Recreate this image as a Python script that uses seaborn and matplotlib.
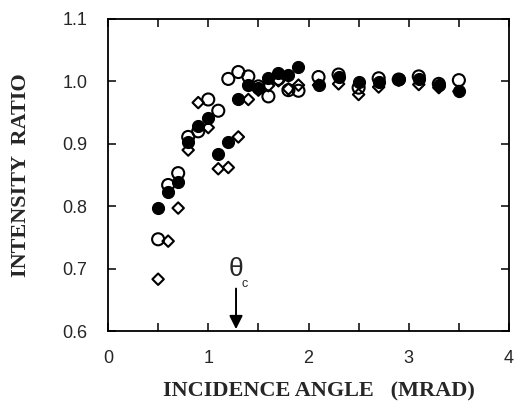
import matplotlib
matplotlib.use("Agg")
import matplotlib.pyplot as plt
import seaborn as sns
import numpy as np
import pandas as pd

# Data
angle = [0.5, 0.6, 0.7, 0.8, 0.9, 1.0, 1.1, 1.2, 1.3, 1.4, 1.5, 1.6, 1.7, 1.8, 1.9,
         2.1, 2.3, 2.5, 2.7, 2.9, 3.1, 3.3, 3.5]
filled_circle = [0.797, 0.822, 0.838, 0.903, 0.929, 0.941, 0.883, 0.903, 0.971, 0.994,
                 0.990, 1.006, 1.013, 1.010, 1.023, 0.995, 1.007, 0.999, 0.999, 1.004,
                 1.004, 0.995, 0.985]
open_circle = [0.747, 0.834, 0.853, 0.911, 0.920, 0.971, 0.953, 1.004, 1.015, 1.008,
               0.992, 0.976, 1.004, 0.986, 0.985, 1.007, 1.011, 0.990, 1.005, 1.003,
               1.008, 0.996, 1.002]
open_diamond = [0.683, 0.744, 0.797, 0.890, 0.966, 0.926, 0.860, 0.862, 0.911, 0.971,
                0.986, 0.993, 1.001, 0.988, 0.994, 0.994, 0.996, 0.979, 0.991, 1.002,
                0.995, 0.990, 0.984]

x_ticks = [0, 1, 2, 3, 4]
y_ticks = [0.6, 0.7, 0.8, 0.9, 1.0, 1.1]

sns.set_style("ticks")
plt.rcParams['font.family'] = ['Liberation Sans', 'DejaVu Sans']

fig = plt.figure(figsize=(5.15, 4.08), dpi=100)
ax = fig.add_axes([108/515, 1 - 331/408, (509 - 108)/515, (331 - 19)/408])

df = pd.DataFrame({"angle": angle, "filled": filled_circle,
                   "open": open_circle, "diamond": open_diamond})

sns.scatterplot(data=df, x="angle", y="filled", ax=ax, marker="o", s=75,
                color="black", edgecolor="black", linewidth=0.8, zorder=3)
sns.scatterplot(data=df, x="angle", y="open", ax=ax, marker="o", s=75,
                facecolor="none", edgecolor="black", linewidth=1.5, zorder=3)
sns.scatterplot(data=df, x="angle", y="diamond", ax=ax, marker="D", s=34,
                facecolor="none", edgecolor="black", linewidth=1.5, zorder=3)

ax.set_xlim(0, 4)
ax.set_ylim(0.6, 1.1)
ax.set_xticks(x_ticks)
ax.set_xticklabels([str(t) for t in x_ticks])
ax.set_xticks(np.arange(0.5, 4, 1.0), minor=True)
ax.set_yticks(y_ticks)
ax.set_yticklabels([f"{t:.1f}" for t in y_ticks])

ax.tick_params(axis="both", which="both", direction="in", top=True, right=True,
               length=6, width=1.1, labelsize=13, color="black")
ax.tick_params(axis="x", pad=14)
ax.tick_params(axis="y", pad=15)
for sp in ax.spines.values():
    sp.set_linewidth(1.3)
    sp.set_color("black")

ax.set_xlabel("INCIDENCE ANGLE   (MRAD)", family="Liberation Serif",
              fontweight="bold", fontsize=16)
ax.set_ylabel("INTENSITY  RATIO", family="Liberation Serif",
              fontweight="bold", fontsize=16)
ax.xaxis.set_label_coords(0.525, -0.163)
ax.yaxis.set_label_coords(-0.192, 0.5)

ax.annotate("", xy=(1.277, 0.603), xytext=(1.277, 0.668),
            arrowprops=dict(arrowstyle="-|>", color="black", lw=1.4,
                            mutation_scale=20, shrinkA=0, shrinkB=0))
ax.text(1.277, 0.700, "\u03b8", ha="center", va="center", fontsize=19)
ax.text(1.367, 0.675, "c", ha="center", va="center", fontsize=9)

fig.savefig("out.png", dpi=100)
